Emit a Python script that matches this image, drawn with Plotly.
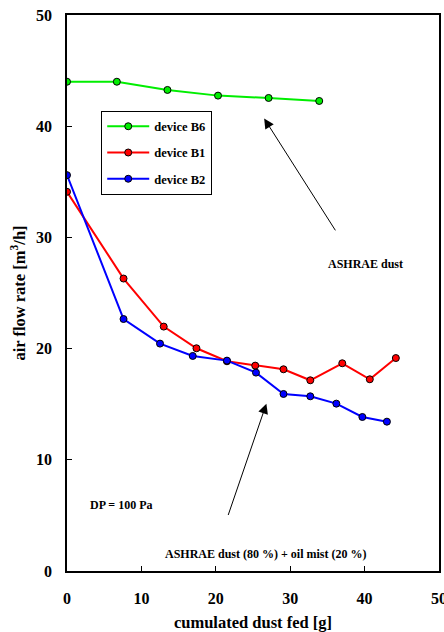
import plotly.graph_objects as go

# Data
b6_x = [0, 6.7, 13.5, 20.3, 27.1, 33.9]
b6_y = [44.0, 44.0, 43.26, 42.75, 42.54, 42.27]

b1_x = [0, 7.6, 13.0, 17.4, 21.5, 25.3, 29.1, 32.7, 37.0, 40.7, 44.2]
b1_y = [34.1, 26.3, 21.98, 20.03, 18.86, 18.47, 18.14, 17.15, 18.68, 17.24, 19.15]

b2_x = [0, 7.6, 12.5, 16.9, 21.5, 25.4, 29.1, 32.7, 36.2, 39.7, 43.0]
b2_y = [35.6, 22.66, 20.45, 19.34, 18.92, 17.84, 15.92, 15.71, 15.05, 13.85, 13.43]

x_ticks = [0, 10, 20, 30, 40, 50]
y_ticks = [0, 10, 20, 30, 40, 50]

FONT = "Liberation Serif"

fig = go.Figure()
series = [("device B6", b6_x, b6_y, "#00ee00"),
          ("device B1", b1_x, b1_y, "#ff0000"),
          ("device B2", b2_x, b2_y, "#0000ff")]
for i, (name, xs, ys, col) in enumerate(series):
    fig.add_trace(go.Scatter(
        x=xs, y=ys, name=name, mode="lines+markers",
        legendgroup=f"g{i}",
        line=dict(color=col, width=2),
        marker=dict(symbol="circle", size=7, color=col, line=dict(color="black", width=1)),
    ))

axis_common = dict(
    showgrid=False, zeroline=False, showline=True, linecolor="black", linewidth=1.5,
    mirror=True, ticks="inside", ticklen=5, tickwidth=1, tickcolor="black",
    automargin=False, ticklabeloverflow="allow",
    tickfont=dict(family=FONT, size=16, color="black", weight="bold"),
)
title_font = dict(family=FONT, size=16.5, color="black", weight="bold")
fig.update_xaxes(range=[0, 50], tickvals=x_ticks, ticklabelstandoff=12,
                 title=dict(text="cumulated dust fed [g]", font=title_font, standoff=11),
                 **axis_common)
fig.update_yaxes(range=[0, 50], tickvals=y_ticks, ticklabelstandoff=10,
                 title=dict(text="air flow rate [m<sup>3</sup>/h]", font=title_font, standoff=6),
                 **axis_common)

ann_font = dict(family=FONT, size=12, color="black", weight="bold")
fig.add_annotation(x=26.5, y=40.7, ax=36.2, ay=30.5, xref="x", yref="y", axref="x", ayref="y",
                   showarrow=True, arrowhead=2, arrowsize=2, arrowwidth=1, arrowcolor="black", text="")
fig.add_annotation(x=26.8, y=15.05, ax=21.6, ay=4.9, xref="x", yref="y", axref="x", ayref="y",
                   showarrow=True, arrowhead=2, arrowsize=2, arrowwidth=1, arrowcolor="black", text="")
fig.add_annotation(x=40.1, y=27.6, xref="x", yref="y", text="ASHRAE dust", showarrow=False, font=ann_font)
fig.add_annotation(x=7.26, y=5.9, xref="x", yref="y", text="DP = 100 Pa", showarrow=False, font=ann_font)
fig.add_annotation(x=26.8, y=1.56, xref="x", yref="y", text="ASHRAE dust (80 %) + oil mist (20 %)",
                   showarrow=False, font=ann_font)

fig.update_layout(
    width=444, height=632,
    margin=dict(l=67, r=5, t=15, b=61),
    paper_bgcolor="white", plot_bgcolor="white",
    showlegend=True,
    legend=dict(x=0.092, y=0.828, xanchor="left", yanchor="top",
                bordercolor="black", borderwidth=1, bgcolor="white",
                tracegroupgap=7, itemwidth=42,
                font=dict(family=FONT, size=12.5, color="black", weight="bold")),
)

fig.write_html("out.html", config={"displayModeBar": False},
               post_script="document.body.style.margin='0';")
